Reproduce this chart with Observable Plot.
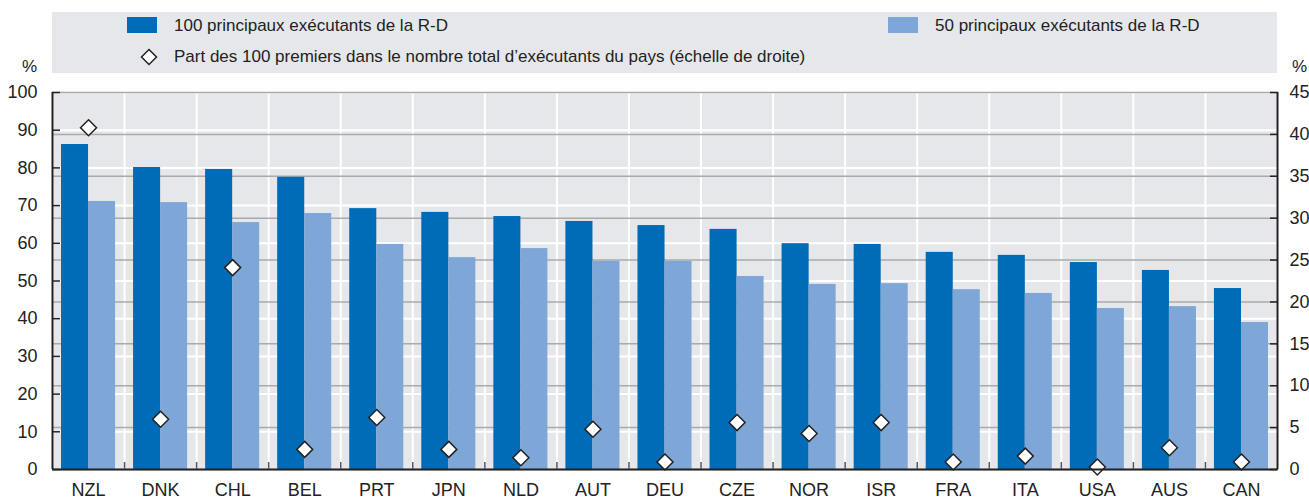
<!DOCTYPE html>
<html>
<head>
<meta charset="utf-8">
<script src="https://cdn.jsdelivr.net/npm/d3@7"></script>
<script src="https://cdn.jsdelivr.net/npm/@observablehq/plot@0.6"></script>
<style>
  body { margin: 0; background: #fff; }
  #wrap { position: relative; width: 1309px; height: 501px; font-family: "Liberation Sans Narrow", "Arial Narrow", sans-serif; color: #222; }
  #legend { position: relative; width: 1309px; height: 80px; }
  #lbox { position: absolute; left: 52px; top: 12px; width: 1225px; height: 61px; background: #e6e7ea; }
  .sw { position: absolute; width: 30px; height: 16px; }
  .lt { position: absolute; font-size: 17px; line-height: 20px; white-space: nowrap; }
  .pct { position: absolute; font-size: 17px; line-height: 20px; }
  #chart svg { display: block; }
</style>
</head>
<body>
<div id="wrap">
  <div id="legend">
    <div id="lbox"></div>
    <div class="sw" id="sw1" style="left:127px; top:17px;"></div>
    <div class="lt" id="t1" style="left:174px; top:16px;"></div>
    <div class="sw" id="sw2" style="left:888px; top:17px;"></div>
    <div class="lt" id="t2" style="left:935px; top:16px;"></div>
    <svg style="position:absolute; left:140px; top:48px;" width="18" height="18"><polygon points="9,1.5 16.5,9 9,16.5 1.5,9" fill="#fff" stroke="#222" stroke-width="1.5"/></svg>
    <div class="lt" id="t3" style="left:174px; top:47px;"></div>
    <div class="pct" style="left:22px; top:57px;">%</div>
    <div class="pct" style="left:1292px; top:57px;">%</div>
  </div>
  <div id="chart"></div>
</div>
<script>
const countries = ["NZL","DNK","CHL","BEL","PRT","JPN","NLD","AUT","DEU","CZE","NOR","ISR","FRA","ITA","USA","AUS","CAN"];
const top100 = [86.2,80.1,79.6,77.5,69.2,68.2,67.1,65.8,64.7,63.7,59.9,59.7,57.6,56.8,54.9,52.8,48.0];
const top50  = [71.1,70.8,65.5,67.9,59.7,56.2,58.6,55.2,55.2,51.2,49.1,49.3,47.7,46.7,42.7,43.2,39.0];
const share  = [40.8,6.0,24.1,2.4,6.2,2.4,1.4,4.8,0.9,5.6,4.3,5.6,0.9,1.6,0.3,2.6,0.9];
const leftTicks = [0,10,20,30,40,50,60,70,80,90,100];
const rightTicks = [0,5,10,15,20,25,30,35,40,45];
const seriesNames = ["100 principaux exécutants de la R-D", "50 principaux exécutants de la R-D", "Part des 100 premiers dans le nombre total d’exécutants du pays (échelle de droite)"];

const dark = "#006bb6", light = "#7ea7d8", bg = "#e6e7ea", ink = "#222";
const rightMax = 45, leftMax = 100;
const toLeft = v => v * leftMax / rightMax;

document.getElementById("sw1").style.background = dark;
document.getElementById("sw2").style.background = light;
document.getElementById("t1").textContent = seriesNames[0];
document.getElementById("t2").textContent = seriesNames[1];
document.getElementById("t3").textContent = seriesNames[2];

const data = countries.map((c, i) => ({c, i, top100: top100[i], top50: top50[i], share: share[i]}));
const bounds = d3.range(0, countries.length + 1);

const chart = Plot.plot({
  width: 1309, height: 421,
  marginLeft: 52, marginRight: 32, marginTop: 12, marginBottom: 32,
  x: {domain: [0, countries.length], axis: null},
  y: {domain: [0, leftMax], axis: null},
  style: {fontFamily: '"Liberation Sans Narrow", "Arial Narrow", sans-serif', fontSize: "18px", color: ink, background: "transparent"},
  marks: [
    Plot.frame({fill: bg, stroke: null}),
    Plot.ruleX(bounds, {x: d => d, stroke: "white", strokeWidth: 2}),
    Plot.ruleY(leftTicks, {y: d => d, stroke: "white", strokeWidth: 2}),
    Plot.ruleY(rightTicks, {y: d => toLeft(d), stroke: "#aaaaaa", strokeWidth: 1.5}),
    Plot.rectY(data, {x1: d => d.i, x2: d => d.i + 1, y: "top100", insetLeft: 9, insetRight: 36, fill: dark}),
    Plot.rectY(data, {x1: d => d.i, x2: d => d.i + 1, y: "top50", insetLeft: 36, insetRight: 9, fill: light}),
    Plot.dot(data, {x: d => d.i + 0.5, y: d => toLeft(d.share), symbol: "diamond2", r: 7.2, fill: "white", stroke: ink, strokeWidth: 1.5}),
    Plot.ruleX([0, countries.length], {stroke: ink, strokeWidth: 2}),
    Plot.ruleY([0], {stroke: ink, strokeWidth: 2}),
    Plot.axisY(leftTicks, {anchor: "left", tickSize: 8, dx: 8, tickFormat: () => "", label: null, stroke: ink, strokeWidth: 1.5}),
    Plot.axisY(rightTicks.map(toLeft), {anchor: "right", tickSize: 8, dx: -8, tickFormat: () => "", label: null, stroke: ink, strokeWidth: 1.5}),
    Plot.axisX(d3.range(1, countries.length), {anchor: "bottom", tickSize: 7, dy: -7, tickFormat: () => "", label: null, stroke: "#555", strokeWidth: 1.5}),
    Plot.axisY(leftTicks, {anchor: "left", tickSize: 0, tickPadding: 15, label: null, fill: ink}),
    Plot.axisY(rightTicks.map(toLeft), {anchor: "right", tickSize: 0, tickPadding: 12, tickFormat: d => String(Math.round(d * rightMax / leftMax)), label: null, fill: ink}),
    Plot.axisX(d3.range(countries.length).map(i => i + 0.5), {anchor: "bottom", tickSize: 0, tickPadding: 14, tickFormat: d => countries[Math.floor(d)], label: null, fill: ink})
  ]
});
document.getElementById("chart").appendChild(chart);
</script>
</body>
</html>
